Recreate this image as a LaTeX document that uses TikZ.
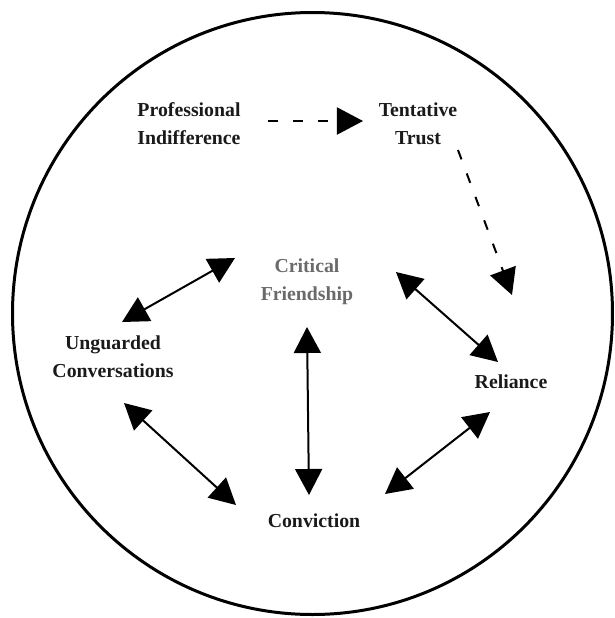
\documentclass[tikz,border=0pt]{standalone}
\usepackage{fontspec}
\setmainfont{Liberation Serif}
\usetikzlibrary{arrows.meta}
\definecolor{ink}{HTML}{1A1A1A}
\definecolor{greytext}{HTML}{6A6A6A}
\tikzset{
  lbl/.style={align=center, inner sep=0pt, text=ink, font=\bfseries\fontsize{9.9}{14}\selectfont},
  graylbl/.style={lbl, text=greytext},
  link/.style={draw=black, line width=1pt, {Triangle[length=13pt,width=13.5pt]}-{Triangle[length=13pt,width=13.5pt]}},
  dlink/.style={draw=black, line width=1pt, dash pattern=on 5pt off 7.5pt, -{Triangle[length=13pt,width=13.5pt]}},
}
\begin{document}
\begin{tikzpicture}[x=0.5pt,y=-0.5pt]
\useasboundingbox (0,0) rectangle (615,618);
\draw[line width=1.5pt] (312.5,313.5) ellipse [x radius=150pt, y radius=150.5pt];

\node[lbl] (pi) at (189,124) {Professional\\Indifference};
\node[lbl] (tt) at (418,124) {Tentative\\Trust};
\node[graylbl] (cf) at (307,282) {Critical\\Friendship};
\node[lbl] (ug) at (113,357) {Unguarded\\Conversations};
\node[lbl] (re) at (511,382) {Reliance};
\node[lbl] (co) at (314,521) {Conviction};

\coordinate (pi-e) at (268,121);
\coordinate (tt-w) at (363,121);
\coordinate (tt-s) at (458,150);
\coordinate (re-n) at (512,295);
\coordinate (cf-w) at (235,258);
\coordinate (ug-n) at (122,322);
\coordinate (cf-e) at (396,272);
\coordinate (re-nw) at (498,362);
\coordinate (cf-s) at (307,327);
\coordinate (co-n) at (309,495);
\coordinate (ug-s) at (124,403);
\coordinate (co-w) at (236,505);
\coordinate (re-sw) at (490,412);
\coordinate (co-e) at (385,494);

\draw[dlink] (pi-e) -- (tt-w);
\draw[dlink] (tt-s) -- (re-n);
\draw[link] (ug-n) -- (cf-w);
\draw[link] (cf-e) -- (re-nw);
\draw[link] (cf-s) -- (co-n);
\draw[link] (ug-s) -- (co-w);
\draw[link] (co-e) -- (re-sw);
\end{tikzpicture}
\end{document}
